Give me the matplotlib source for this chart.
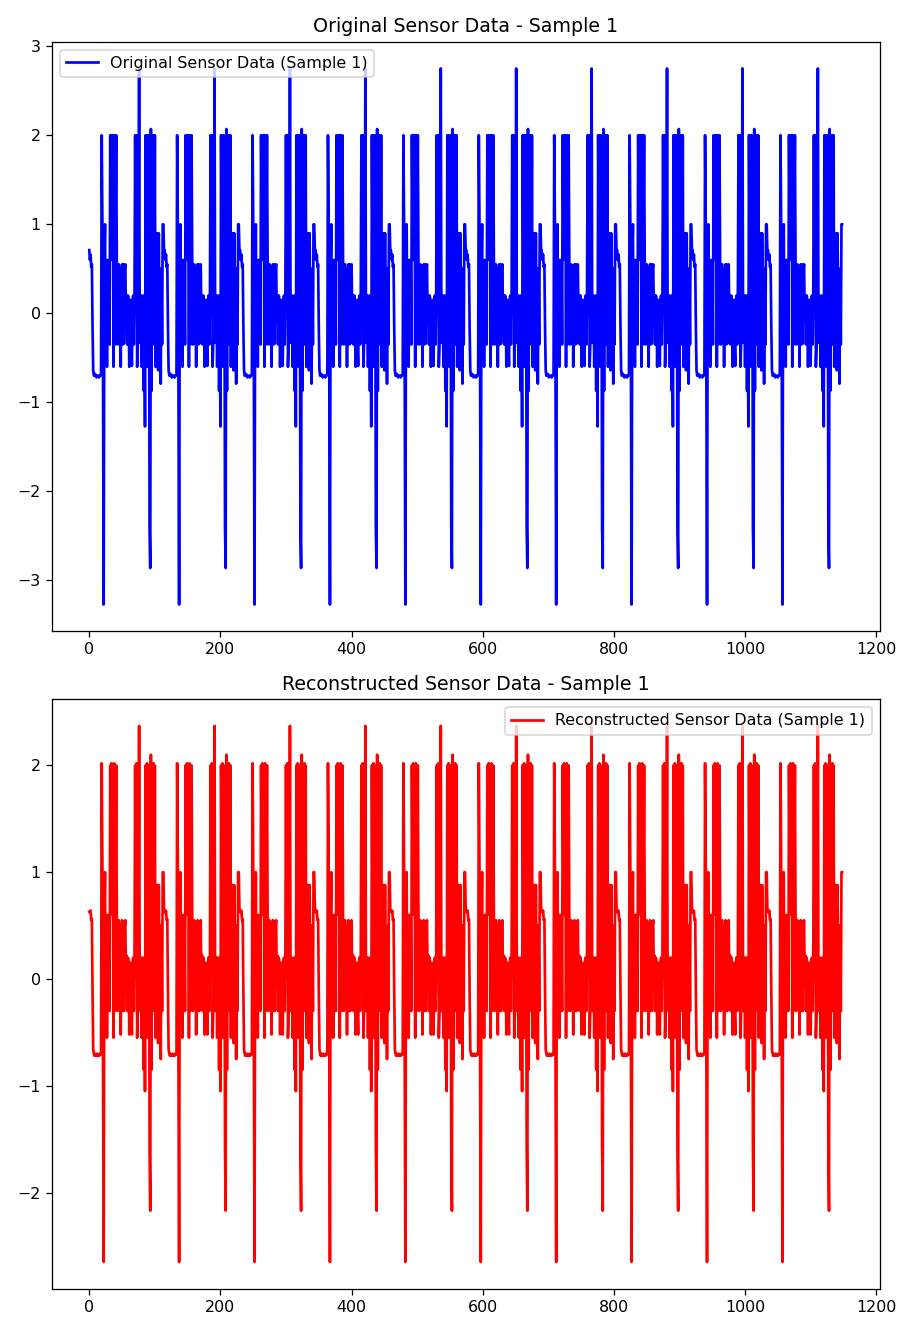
import numpy as np
import matplotlib.pyplot as plt

# one cycle (115 samples) of the original sensor signal
original_cycle = [
    0.71, 0.60, 0.66, 0.52, 0.55, -0.16,
    -0.64, -0.70, -0.70, -0.68, -0.70, -0.72, -0.70, -0.70, -0.70, -0.72, -0.70, -0.70, -0.68,
    2.00, 1.05, -0.70, -3.27, 0.55,
    1.00, -0.35, 0.55, -0.60, 0.60, -0.23, 0.55, -0.35,
    2.00, 1.00, 2.00, 0.60, 2.00, -0.60, 2.00, -0.35, 0.97, 2.00,
    0.55, -0.35, 0.48, 0.55, -0.34, 0.50, -0.60, 0.45, 0.55, -0.35, 0.55, -0.34, 0.50, 0.55, -0.10,
    0.20, -0.35, 0.20, 0.15, -0.60, 0.00, 0.15, -0.35, -0.59, 0.15, 0.20, -0.35, 0.20,
    2.00, 0.20, 2.00, -0.60, -0.35, 0.20, 2.75,
    -0.33, 0.05, 0.20, -0.60, 0.10, 0.20, -0.87, 0.05, -1.27,
    2.00, 0.60, 2.00, -0.60, 2.00, 1.00, -2.41, -2.86, 2.07, -0.87, 2.00, 0.20, 2.00, -0.35, 2.00, -0.60, 0.57,
    0.90, -0.35, -0.64, 0.90, -0.16, 0.50, -0.79, 0.50, -0.35, 1.00, 1.00, 0.70,
]

# same cycle as it comes out of the reconstruction
recon_cycle = [
    0.63, 0.62, 0.64, 0.55, 0.56, -0.12,
    -0.66, -0.70, -0.72, -0.70, -0.71, -0.72, -0.70, -0.72, -0.71, -0.72, -0.70, -0.71, -0.70,
    2.02, 1.10, -0.72, -2.65, 0.55,
    1.00, -0.30, 0.55, -0.55, 0.60, -0.20, 0.55, -0.30,
    2.00, 1.00, 2.02, 0.60, 2.00, -0.55, 2.02, -0.30, 0.95, 2.00,
    0.55, -0.30, 0.47, 0.55, -0.28, 0.50, -0.52, 0.44, 0.55, -0.30, 0.54, -0.30, 0.50, 0.55, -0.08,
    0.22, -0.30, 0.20, 0.14, -0.52, 0.02, 0.15, -0.30, -0.52, 0.15, 0.20, -0.30, 0.20,
    2.00, 0.20, 2.02, -0.55, -0.30, 0.20, 2.37,
    -0.30, 0.05, 0.20, -0.55, 0.10, 0.20, -0.85, 0.05, -1.05,
    2.00, 0.60, 2.02, -0.55, 2.00, 1.00, -1.57, -2.17, 2.10, -0.85, 2.00, 0.20, 2.02, -0.30, 2.00, -0.55, 0.57,
    0.88, -0.30, -0.60, 0.88, -0.12, 0.50, -0.75, 0.50, -0.30, 1.00, 1.00, 0.66,
]

n_cycles = 10
n_samples = 1149

original = np.tile(original_cycle, n_cycles)[:n_samples]
reconstructed = np.tile(recon_cycle, n_cycles)[:n_samples]

fig, axes = plt.subplots(2, 1, figsize=(8, 1332 / 114.25), dpi=114.25)

axes[0].plot(original, color='blue', lw=1.7, label='Original Sensor Data (Sample 1)')
axes[0].set_title('Original Sensor Data - Sample 1')
axes[0].legend(loc='upper left')

axes[1].plot(reconstructed, color='red', lw=1.7, label='Reconstructed Sensor Data (Sample 1)')
axes[1].set_title('Reconstructed Sensor Data - Sample 1')
axes[1].legend(loc='upper right')

plt.tight_layout()
plt.savefig('out.png')
